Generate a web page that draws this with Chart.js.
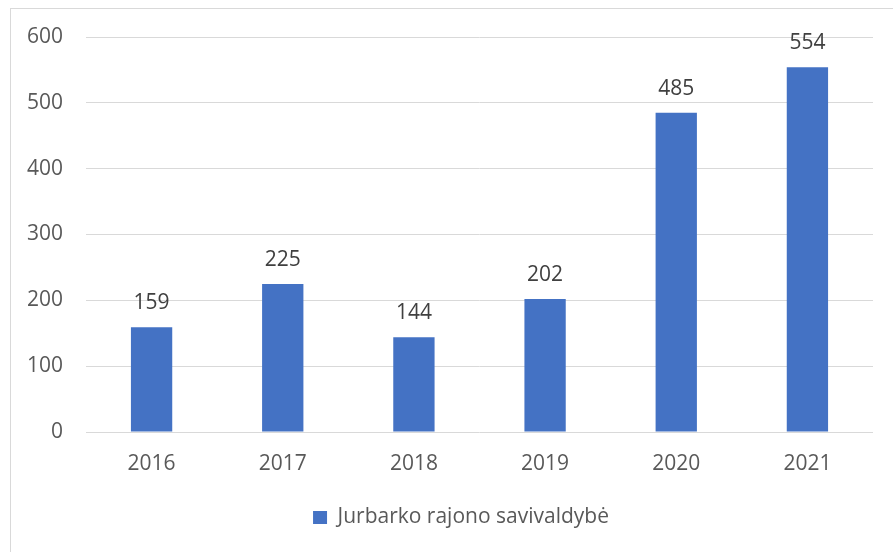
<!DOCTYPE html>
<html>
<head>
<meta charset="utf-8">
<script src="https://cdn.jsdelivr.net/npm/chart.js@4"></script>
<style>
html,body{margin:0;padding:0;background:#fff;overflow:hidden;}
#wrap{position:relative;width:893px;height:552px;}
</style>
</head>
<body>
<div id="wrap"><canvas id="c" width="893" height="552"></canvas></div>
<script>
const categories = ['2016', '2017', '2018', '2019', '2020', '2021'];
const seriesName = 'Jurbarko rajono savivaldybė';
const seriesValues = [159, 225, 144, 202, 485, 554];
const yTicks = [0, 100, 200, 300, 400, 500, 600];

const FONT = '"Open Sans", sans-serif';
const FS = 21;

const borderPlugin = {
  id: 'frame',
  beforeDraw(chart) {
    const ctx = chart.ctx;
    ctx.save();
    ctx.fillStyle = '#ffffff';
    ctx.fillRect(0, 0, chart.width, chart.height);
    ctx.strokeStyle = '#d9d9d9';
    ctx.lineWidth = 1;
    ctx.strokeRect(10.5, 8.5, 1000, 1000);
    ctx.restore();
  }
};

const legendShift = {
  id: 'legendShift',
  afterLayout(chart) {
    if (chart.legend) chart.legend.left = 49;
  }
};

const valueLabels = {
  id: 'valueLabels',
  afterDatasetsDraw(chart) {
    const ctx = chart.ctx;
    ctx.save();
    ctx.font = FS + 'px ' + FONT;
    ctx.fillStyle = '#404040';
    ctx.textAlign = 'center';
    ctx.textBaseline = 'alphabetic';
    chart.data.datasets.forEach((ds, di) => {
      chart.getDatasetMeta(di).data.forEach((bar, i) => {
        ctx.fillText(String(ds.data[i]), bar.x, bar.y - 18);
      });
    });
    ctx.restore();
  }
};

new Chart(document.getElementById('c'), {
  type: 'bar',
  data: {
    labels: categories,
    datasets: [{
      label: seriesName,
      data: seriesValues,
      backgroundColor: '#4472C4',
      borderWidth: 0,
      categoryPercentage: 1,
      barPercentage: 0.315
    }]
  },
  options: {
    responsive: false,
    animation: false,
    devicePixelRatio: 1,
    layout: { padding: { left: 0, right: 20, top: 37, bottom: 14 } },
    plugins: {
      legend: {
        position: 'bottom',
        labels: {
          font: { family: FONT, size: FS },
          color: '#595959',
          boxWidth: 14,
          boxHeight: 13,
          padding: 10
        }
      },
      tooltip: { enabled: false }
    },
    scales: {
      x: {
        grid: { display: false, drawTicks: false },
        border: { display: false },
        ticks: { font: { family: FONT, size: FS }, color: '#595959', padding: 19 },
        afterFit(s) { s.height = 65; }
      },
      y: {
        min: 0,
        max: 600,
        afterBuildTicks(s) { s.ticks = yTicks.map(v => ({ value: v })); },
        grid: { color: '#d9d9d9', lineWidth: 1, drawTicks: false },
        border: { display: false },
        ticks: { font: { family: FONT, size: FS }, color: '#595959', padding: 23 },
        afterFit(s) { s.width = 86; }
      }
    }
  },
  plugins: [borderPlugin, legendShift, valueLabels]
});
</script>
</body>
</html>
